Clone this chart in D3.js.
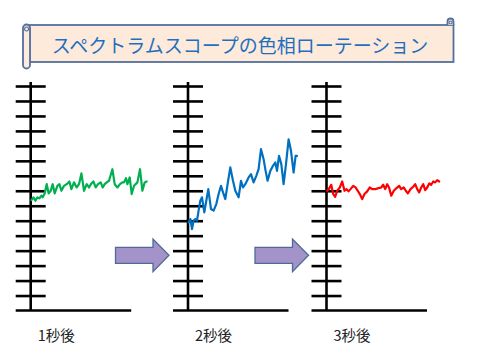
<!DOCTYPE html>
<html>
<head>
<meta charset="utf-8">
<script src="https://cdn.jsdelivr.net/npm/d3@7"></script>
<style>
html,body{margin:0;padding:0;background:#fff;}
svg{display:block;}
</style>
</head>
<body>
<svg id="chart" width="480" height="360"></svg>
<script>
// ---- data ----
const titleText = "スペクトラムスコープの色相ローテーション";
const panelLabels = ["1秒後", "2秒後", "3秒後"];
const tickValues = [1,2,3,4,5,6,7,8,9,10,11,12,13,14,15];

const greenT = [0.7,2.7,4.7,6.7,8.7,10.7,12,14,16,18,20,22,24,26.7,28.7,30.7,33.3,36,38.7,40.7,43.3,46,48.3,50.7,53.3,56,58.3,60.7,62.7,65,67.3,70,72,74,76,78.3,81.7,84,86.7,89.3,91.7,93.3,95.3,96.7,99,101,103.3,106.7,109.3,111.7,114,116];
const greenV = [7.38,7.56,7.33,7.56,7.49,7.67,7.56,7.82,8.44,7.82,8.0,8.44,7.82,8.33,8.44,8.0,8.33,8.44,8.62,8.11,8.56,8.22,8.44,9.16,8.0,8.44,8.22,8.49,8.62,8.22,8.44,8.56,8.22,8.44,8.56,8.67,9.44,8.44,8.22,8.44,8.56,8.56,8.84,8.44,8.89,7.78,8.33,8.56,9.44,8.0,8.56,8.62];

const blueT = [0.6,2.3,4.0,5.6,7.3,9.0,10.6,12.3,14.0,16.3,18.3,20.3,23.0,25.6,28.3,30.6,33.0,35.0,37.3,39.6,42.3,45.0,47.3,50.6,53.0,55.0,57.3,60.6,63.0,65.6,68.3,70.6,73.0,75.6,77.6,79.6,82.3,85.0,87.3,89.0,91.0,93.3,95.6,98.0,100.6,103.0,105.6,107.6,109.0];
const blueV = [5.89,6.11,5.44,6.0,6.11,6.0,6.67,7.33,7.56,6.56,7.33,8.11,6.78,6.67,7.11,7.78,8.33,7.89,7.44,8.44,9.56,8.67,8.0,7.56,8.67,8.22,8.44,8.89,9.11,8.56,9.0,9.44,10.78,10.11,9.33,8.67,9.33,9.67,9.89,9.33,10.33,9.78,8.44,9.78,11.44,10.67,9.22,10.33,10.33];

const redT = [0.7,2.3,4.7,6.7,8.7,10.7,13.3,15.7,18,20,22,24,26.7,29,31.3,33.3,35.7,38,40.7,43.3,45.7,49,52.3,54.7,56.7,58.7,60.7,62.7,64.7,67.3,70,72.7,74.7,77.3,79.3,81.3,84,86.7,88.7,90.7,92.7,94.7,96.7,98.7,100.7,102.7,104.7,106.7,108.7,110.7,112.7];
const redV = [8.0,8.11,8.4,7.78,7.6,8.0,8.22,8.62,8.0,8.11,7.96,8.11,8.33,8.22,8.0,7.78,7.44,7.78,7.96,8.22,8.11,8.11,8.18,8.22,8.4,8.11,8.44,8.18,7.67,8.0,8.18,8.33,8.11,8.22,8.0,7.82,8.11,8.27,8.44,8.11,7.89,8.22,8.44,8.04,8.22,8.49,8.4,8.62,8.56,8.71,8.62];

const seriesColors = ["#00B050", "#0070C0", "#FF0000"];

// ---- layout ----
const svg = d3.select("#chart");
const panels = [
  {axisX: 30.7, t: greenT, v: greenV},
  {axisX: 188.0, t: blueT, v: blueV},
  {axisX: 326.5, t: redT, v: redT && redV}
];
const yScale = d3.scaleLinear().domain([0, 15]).range([310.5, 86]);
const axisTop = 82;
const baseLen = 100.5;

// ---- title banner (scroll) ----
const bx0 = 29.5, bx1 = 453.5, by0 = 25, by1 = 62;
const banner = svg.append("g");
const bStroke = "#52709F", bFill = "#FDEADA";
banner.append("rect").attr("x", bx0).attr("y", by0).attr("width", bx1 - bx0).attr("height", by1 - by0)
  .attr("fill", bFill).attr("stroke", bStroke).attr("stroke-width", 1.8);
// left roll
banner.append("rect").attr("x", 23).attr("y", 24.5).attr("width", 7).attr("height", 44).attr("rx", 3.5)
  .attr("fill", bFill).attr("stroke", bStroke).attr("stroke-width", 1.8);
banner.append("path").attr("d", "M26.5,31 a2,2 0 1,1 0.1,0")
  .attr("fill", "none").attr("stroke", bStroke).attr("stroke-width", 1.2);
// right roll
banner.append("path").attr("d", `M${bx1-6},${by0} L${bx1-6},21.5 a3,3 0 0,1 6,0 L${bx1},${by0}`)
  .attr("fill", bFill).attr("stroke", bStroke).attr("stroke-width", 1.8);
banner.append("path").attr("d", `M${bx1-3},24 a1.5,1.5 0 1,1 0.1,0`)
  .attr("fill", "none").attr("stroke", bStroke).attr("stroke-width", 1.1);
banner.append("text").attr("x", 240).attr("y", 44).attr("text-anchor", "middle")
  .attr("dominant-baseline", "central")
  .attr("font-family", "'Noto Sans CJK JP', sans-serif").attr("font-size", 19)
  .attr("fill", "#1F6FC0").text(titleText);

// ---- arrows ----
function arrow(x0, tip) {
  const headX = tip - 16;
  const p = d3.path();
  p.moveTo(x0, 247.3); p.lineTo(headX, 247.3); p.lineTo(headX, 239);
  p.lineTo(tip, 255.3); p.lineTo(headX, 271.7); p.lineTo(headX, 263.3);
  p.lineTo(x0, 263.3); p.closePath();
  svg.append("path").attr("d", p.toString()).attr("fill", "#A393C8")
    .attr("stroke", "#4F6A9A").attr("stroke-width", 1.3).attr("stroke-linejoin", "miter");
}
arrow(115.5, 169);
arrow(255, 308.5);

// ---- panels ----
panels.forEach((pn, i) => {
  const g = svg.append("g");
  const x = d3.scaleLinear().domain([0, baseLen]).range([pn.axisX, pn.axisX + baseLen]);
  // ticks via d3 axis
  const ax = g.append("g").attr("transform", `translate(${pn.axisX - 15},0)`)
    .call(d3.axisRight(yScale).tickValues(tickValues).tickSize(30).tickFormat(""));
  ax.select(".domain").remove();
  ax.selectAll(".tick line").attr("stroke", "#000").attr("stroke-width", 2.6);
  // vertical axis
  g.append("line").attr("x1", pn.axisX).attr("x2", pn.axisX)
    .attr("y1", axisTop).attr("y2", yScale(0)).attr("stroke", "#000").attr("stroke-width", 2.6);
  // baseline
  g.append("line").attr("x1", pn.axisX - 15).attr("x2", x(baseLen))
    .attr("y1", yScale(0)).attr("y2", yScale(0)).attr("stroke", "#000").attr("stroke-width", 2.6);
  // series line
  const pts = pn.t.map((t, k) => [t, pn.v[k]]);
  g.append("path").datum(pts)
    .attr("d", d3.line().x(d => x(d[0])).y(d => yScale(d[1])))
    .attr("fill", "none").attr("stroke", seriesColors[i]).attr("stroke-width", 2.2)
    .attr("stroke-linejoin", "round").attr("stroke-linecap", "round");
  // label
  g.append("text").attr("x", pn.axisX + 25.5).attr("y", 341).attr("text-anchor", "middle")
    .attr("font-family", "'Noto Sans CJK JP', sans-serif").attr("font-size", 14.5)
    .attr("fill", "#222").text(panelLabels[i]);
});
</script>
</body>
</html>
